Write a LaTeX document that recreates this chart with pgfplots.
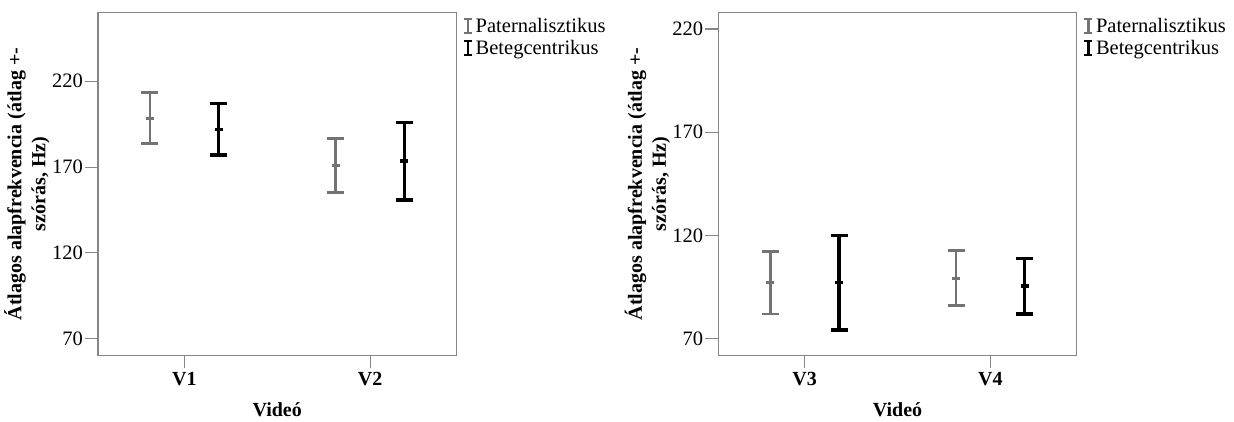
\documentclass[border=0pt]{standalone}
\usepackage{pgfplots}
\pgfplotsset{compat=1.18}
\usepackage{fontspec}
\setmainfont{Liberation Serif}
\definecolor{pgray}{RGB}{115,115,115}
\definecolor{framegray}{RGB}{135,135,135}
\newcommand{\fs}{\fontsize{20.5}{24}\selectfont}
\newcommand{\fb}{\fontsize{20}{24}\selectfont}
\pgfplotsset{
  spss/.style={
    scale only axis, width=358.4pt, height=343.2pt,
    anchor=south west,
    xmin=0.535, xmax=2.465,
    xtick={1,2},
    ytick={70,120,170,220},
    tick pos=left, tick align=outside,
    major tick length=13pt,
    axis line style={framegray, line width=1.1pt},
    every tick/.style={framegray, line width=1.1pt},
    /pgf/number format/assume math mode=true,
    yticklabel style={font=\fs, text=black, inner sep=2pt},
    xticklabel style={font=\bfseries\fb, text=black},
    xlabel={Videó},
    every axis x label/.style={at={([yshift=-54.5pt]axis description cs:0.5,0)}, anchor=center, font=\bfseries\fb},
    ylabel={Átlagos alapfrekvencia (átlag +-\\szórás, Hz)},
    every axis y label/.style={at={([xshift=-71pt]axis description cs:0,0.5)}, anchor=center, rotate=90, align=center, font=\bfseries\fb},
    legend style={at={(1,1)}, anchor=north west, xshift=6pt, yshift=-3pt, draw=none, fill=none, font=\fs, inner sep=0pt, row sep=1.5pt,
      nodes={inner sep=2.5pt}},
    legend cell align=left,
    legend image code/.code={
      \draw[#1, mark=none, line width=2.8pt] (0pt,-7pt) -- (0pt,7pt);
      \draw[#1, mark=none, line width=2.6pt] (-4pt,-7pt) -- (4pt,-7pt);
      \draw[#1, mark=none, line width=2.6pt] (-4pt,7pt) -- (4pt,7pt);
    },
  },
  pat/.style={only marks, color=pgray, mark=-, mark size=4pt, mark options={line width=3pt},
    error bars/.cd, y dir=both, y explicit,
    error bar style={line width=2.7pt, pgray},
    error mark options={rotate=90, mark size=8.5pt, line width=2.8pt, pgray}},
  bet/.style={only marks, color=black, mark=-, mark size=4pt, mark options={line width=3.5pt},
    error bars/.cd, y dir=both, y explicit,
    error bar style={line width=3.4pt, black},
    error mark options={rotate=90, mark size=8.5pt, line width=3.3pt, black}},
}
\begin{document}
\begin{tikzpicture}
\path[use as bounding box] (0,0) rectangle (1234pt,422pt);
\begin{axis}[spss, at={(98pt,66.5pt)}, ymin=60.2, ymax=260.2, xticklabels={V1,V2}]
\addplot[pat] coordinates {(0.815,198.4) +- (0,14.85) (1.815,171.0) +- (0,15.85)};
\addlegendentry{Paternalisztikus}
\addplot[bet] coordinates {(1.185,192.0) +- (0,15.0) (2.185,173.5) +- (0,22.65)};
\addlegendentry{Betegcentrikus}
\end{axis}
\begin{axis}[spss, at={(718.3pt,66.5pt)}, ymin=61.8, ymax=228.1, xticklabels={V3,V4}]
\addplot[pat] coordinates {(0.815,97.0) +- (0,15.1) (1.815,99.2) +- (0,13.35)};
\addlegendentry{Paternalisztikus}
\addplot[bet] coordinates {(1.185,97.1) +- (0,22.9) (2.185,95.4) +- (0,13.5)};
\addlegendentry{Betegcentrikus}
\end{axis}
\end{tikzpicture}
\end{document}
